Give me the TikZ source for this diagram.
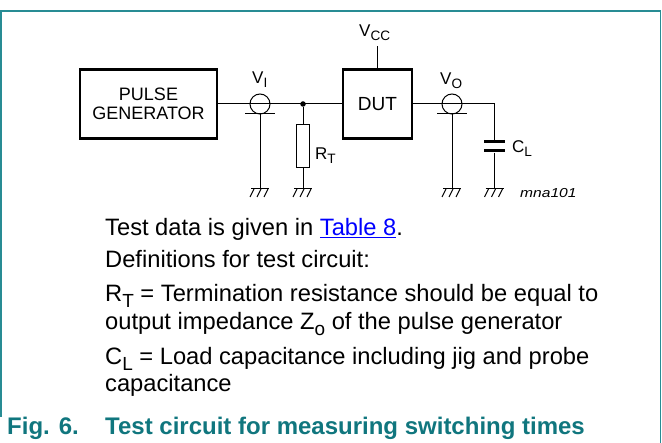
\documentclass[tikz,border=0pt]{standalone}
\usepackage{fontspec}
\setmainfont{Liberation Sans}
\usepackage{graphicx}
\definecolor{frameteal}{RGB}{40,140,148}
\definecolor{figteal}{RGB}{16,118,126}
\definecolor{linkblue}{RGB}{0,0,255}
\newcommand{\sbx}[1]{\raisebox{-0.22em}{\scalebox{0.8}{#1}}}
\begin{document}
\begin{tikzpicture}[x=1pt,y=-1pt,
  wire/.style={line width=1pt},
  blk/.style={draw, line width=2.4pt, inner sep=0pt, align=center, font=\fontsize{18}{20}\selectfont},
  lbl/.style={anchor=base west, inner sep=0pt, font=\fontsize{17}{19}\selectfont},
  body/.style={anchor=base west, inner sep=0pt, font=\fontsize{23.7}{27}\selectfont},
  plate/.style={fill=black, draw=none, minimum width=21pt, minimum height=3pt, inner sep=0pt},
  gnd/.pic={\draw[line width=1pt] (-9,0) -- (9,0);
            \foreach \q in {-6,1,8} \draw[line width=1pt] (\q,0) -- (\q-4,8);}
]
\useasboundingbox (0,0) rectangle (662,443);
% frame
\draw[frameteal, line width=1.5pt] (0.75,417) -- (0.75,11) -- (660.5,11) -- (660.5,443);

% blocks
\node[blk, minimum width=137pt, minimum height=69pt] (pg) at (148.5,104) {PULSE\\[-1pt]GENERATOR};
\node[blk, minimum width=69pt, minimum height=69pt, font=\fontsize{19}{21}\selectfont] (dut) at (377.5,104) {DUT};

% coax probes
\node[circle, draw, wire, minimum size=20pt, inner sep=0pt] (vi) at (260,104) {};
\node[circle, draw, wire, minimum size=20pt, inner sep=0pt] (vo) at (452,104) {};
\coordinate (vibl) at (245,114); \coordinate (vibr) at (275,114);
\coordinate (vobl) at (437,114); \coordinate (vobr) at (467,114);
\coordinate (vib) at (260,114); \coordinate (vob) at (452,114);

% junction, resistor, capacitor
\node[circle, fill=black, minimum size=5.5pt, inner sep=0pt] (jn) at (303,104) {};
\node[draw, wire, minimum width=13pt, minimum height=43pt, inner sep=0pt] (rt) at (303,146.5) {};
\coordinate (cc) at (494.5,104);
\node[plate] (cl1) at (494.5,142) {};
\node[plate] (cl2) at (494.5,151) {};
\coordinate (vcc) at (377.5,46);

% grounds
\coordinate (g1) at (260,189);
\coordinate (g2) at (303,189);
\coordinate (g3) at (452,189);
\coordinate (g4) at (494.5,189);

% wires
\draw[wire] (pg.east) -- (dut.west);
\draw[wire] (dut.east) -- (cc) -- (cl1.north);
\draw[wire] (cl2.south) -- (g4);
\draw[wire] (vibl) -- (vibr);
\draw[wire] (vobl) -- (vobr);
\draw[wire] (vib) -- (g1);
\draw[wire] (vob) -- (g3);
\draw[wire] (jn) -- (rt.north);
\draw[wire] (rt.south) -- (g2);
\draw[wire] (dut.north) -- (vcc);
\pic at (g1) {gnd};
\pic at (g2) {gnd};
\pic at (g3) {gnd};
\pic at (g4) {gnd};

% labels
\node[lbl] (lvi) at (252,84) {V\sbx{I}};
\node[lbl] (lvcc) at (359,37) {V\sbx{CC}};
\node[lbl] (lvo) at (440,85) {V\sbx{O}};
\node[lbl] (lcl) at (512,153) {C\sbx{L}};
\node[lbl] (lrt) at (315,160) {R\sbx{T}};
\node[anchor=base west, inner sep=0pt, font=\fontsize{13}{15}\selectfont\itshape] (mna) at (520,198) {\scalebox{1.2}[1]{mna101}};

% text
\node[body] (t1) at (105,236) {Test data is given in {\color{linkblue}\underline{Table 8}}.};
\node[body] (t2) at (105,268) {Definitions for test circuit:};
\node[body] (t3) at (105,302) {R\sbx{T} = Termination resistance should be equal to};
\node[body] (t4) at (105,330) {output impedance Z\sbx{o} of the pulse generator};
\node[body] (t5) at (105,365) {C\sbx{L} = Load capacitance including jig and probe};
\node[body] (t6) at (105,392) {capacitance};
\node[body, font=\fontsize{24}{27}\selectfont\bfseries, text=figteal] (f1) at (7,435) {Fig. 6.};
\node[body, font=\fontsize{24}{27}\selectfont\bfseries, text=figteal] (f2) at (105,435) {Test circuit for measuring switching times};
\end{tikzpicture}
\end{document}
